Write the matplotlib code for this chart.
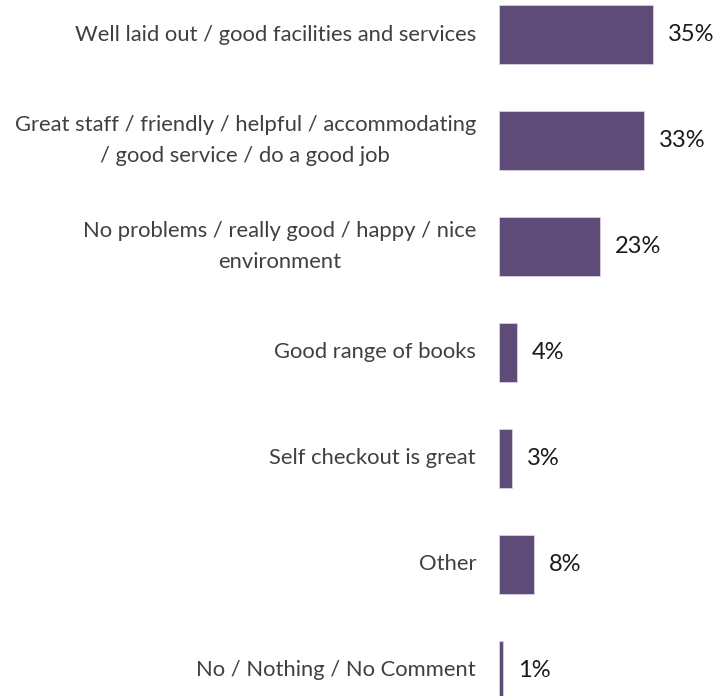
import matplotlib.pyplot as plt
from matplotlib.transforms import offset_copy

plt.rcParams['font.family'] = ['Lato', 'DejaVu Sans']

categories = [
    "Well laid out / good facilities and services",
    "Great staff / friendly / helpful / accommodating\n/ good service / do a good job",
    "No problems / really good / happy / nice\nenvironment",
    "Good range of books",
    "Self checkout is great",
    "Other",
    "No / Nothing / No Comment",
]
values = [35, 33, 23, 4, 3, 8, 1]

bar_color = '#5F4B77'

fig = plt.figure(figsize=(7.16, 6.96), dpi=100)
ax = fig.add_axes([499 / 716, 0, 220 / 716, 1])

ypos = list(range(len(categories)))
ax.barh(ypos, values, height=0.557, color=bar_color, edgecolor='#D9D2E4', linewidth=0.6)

ax.set_xlim(0, 50)
ax.set_ylim(6.2406, -0.3255)

# category labels to the left of the bars
lab_tr = offset_copy(ax.transData, fig=fig, x=-23, y=0, units='dots')
for y, name in zip(ypos, categories):
    ax.text(0, y, name, transform=lab_tr, ha='right', va='center',
            multialignment='center', fontsize=15.8, color='#404040',
            linespacing=1.7)

# value labels after each bar
val_tr = offset_copy(ax.transData, fig=fig, x=15, y=0, units='dots')
for y, v in zip(ypos, values):
    ax.text(v, y, f"{v}%", transform=val_tr, ha='left', va='center',
            fontsize=17, color='#1a1a1a')

ax.axis('off')
fig.savefig('out.png', dpi=100)
